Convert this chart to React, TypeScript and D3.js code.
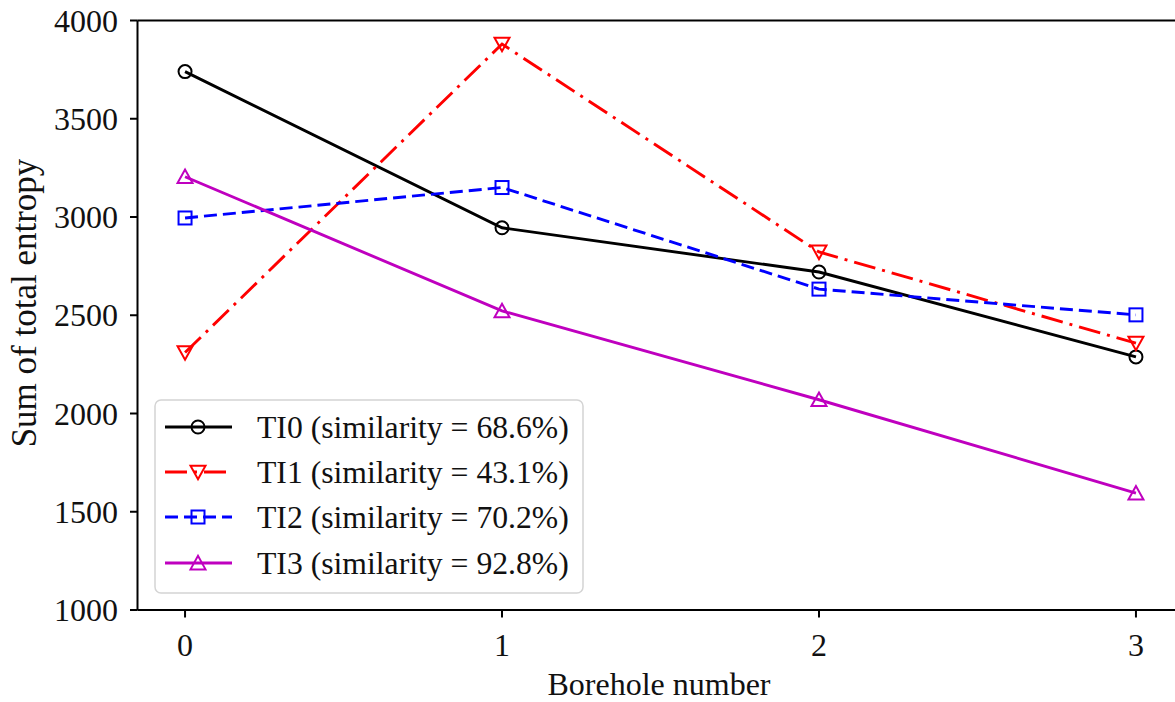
import React from "react";
import * as d3 from "d3";

const boreholes = [0, 1, 2, 3];
const ti0 = [3740, 2945, 2720, 2288];
const ti1 = [2310, 3880, 2822, 2358];
const ti2 = [2995, 3150, 2633, 2502];
const ti3 = [3205, 2522, 2070, 1595];
const seriesNames = [
  "TI0 (similarity = 68.6%)",
  "TI1 (similarity = 43.1%)",
  "TI2 (similarity = 70.2%)",
  "TI3 (similarity = 92.8%)",
];
const yTicks = [1000, 1500, 2000, 2500, 3000, 3500, 4000];
const xTicks = [0, 1, 2, 3];

const W = 1175;
const H = 702;
const FONT = "'Liberation Serif', 'Times New Roman', serif";

type Marker = "circle" | "tridown" | "square" | "triup";
const styles: { color: string; dash: string; marker: Marker }[] = [
  { color: "#000000", dash: "none", marker: "circle" },
  { color: "#ff0000", dash: "22 7 3 7", marker: "tridown" },
  { color: "#0000ff", dash: "13 6", marker: "square" },
  { color: "#bf00bf", dash: "none", marker: "triup" },
];

function MarkerShape({ type, x, y, color }: { type: Marker; x: number; y: number; color: string }) {
  const sw = 2;
  if (type === "circle") return <circle cx={x} cy={y} r={6.5} fill="none" stroke={color} strokeWidth={sw} />;
  if (type === "square")
    return <rect x={x - 6.5} y={y - 6.5} width={13} height={13} fill="none" stroke={color} strokeWidth={sw} />;
  const s = 7.5;
  if (type === "tridown")
    return (
      <path
        d={`M${x - s},${y - s * 0.85}L${x + s},${y - s * 0.85}L${x},${y + s * 0.95}Z`}
        fill="none"
        stroke={color}
        strokeWidth={sw}
      />
    );
  return (
    <path
      d={`M${x - s},${y + s * 0.85}L${x + s},${y + s * 0.85}L${x},${y - s * 0.95}Z`}
      fill="none"
      stroke={color}
      strokeWidth={sw}
    />
  );
}

export default function App() {
  const x = d3.scaleLinear().domain([-0.15, 3.15]).range([137.5, 1183.5]);
  const y = d3.scaleLinear().domain([1000, 4000]).range([610, 20.5]);
  const data = [ti0, ti1, ti2, ti3];
  const line = d3
    .line<number>()
    .x((_, i) => x(boreholes[i]))
    .y((d) => y(d));

  const legendRowsY = [427, 472, 517, 563];

  return (
    <svg
      width={W}
      height={H}
      style={{ position: "absolute", left: 0, top: 0, background: "#fff" }}
      fontFamily={FONT}
    >
      <rect x={0} y={0} width={W} height={H} fill="#fff" />
      <defs>
        <clipPath id="plotclip">
          <rect x={137.5} y={20.5} width={1183.5 - 137.5} height={610 - 20.5} />
        </clipPath>
      </defs>

      {/* series lines */}
      <g clipPath="url(#plotclip)">
        {data.map((d, si) => (
          <path
            key={si}
            d={line(d) || ""}
            fill="none"
            stroke={styles[si].color}
            strokeWidth={2.9}
            strokeDasharray={styles[si].dash}
          />
        ))}
        {data.map((d, si) =>
          d.map((v, i) => (
            <MarkerShape key={`${si}-${i}`} type={styles[si].marker} x={x(boreholes[i])} y={y(v)} color={styles[si].color} />
          ))
        )}
      </g>

      {/* spines */}
      <line x1={137.5} x2={1183.5} y1={20.5} y2={20.5} stroke="#000" strokeWidth={2} />
      <line x1={137.5} x2={1183.5} y1={610} y2={610} stroke="#000" strokeWidth={2} />
      <line x1={137.5} x2={137.5} y1={20.5} y2={610} stroke="#000" strokeWidth={2} />

      {/* y ticks */}
      {yTicks.map((t) => (
        <g key={t}>
          <line x1={130} x2={137.5} y1={y(t)} y2={y(t)} stroke="#000" strokeWidth={2} />
          <text x={118} y={y(t)} dy="0.35em" textAnchor="end" fontSize={32} fill="#111">
            {t}
          </text>
        </g>
      ))}
      {/* x ticks */}
      {xTicks.map((t) => (
        <g key={t}>
          <line x1={x(t)} x2={x(t)} y1={610} y2={617.5} stroke="#000" strokeWidth={2} />
          <text x={x(t)} y={645} dy="0.35em" textAnchor="middle" fontSize={32} fill="#111">
            {t}
          </text>
        </g>
      ))}

      {/* axis labels */}
      <text x={659} y={684} dy="0.35em" textAnchor="middle" fontSize={32} fill="#111">
        Borehole number
      </text>
      <text
        transform={`translate(24,303) rotate(-90)`}
        dy="0.35em"
        textAnchor="middle"
        fontSize={35}
        fill="#111"
      >
        Sum of total entropy
      </text>

      {/* legend */}
      <rect x={155} y={400} width={428} height={193} rx={6} fill="#fff" fillOpacity={0.8} stroke="#d4d4d4" strokeWidth={1.5} />
      {seriesNames.map((name, si) => (
        <g key={name}>
          <line
            x1={165}
            x2={232}
            y1={legendRowsY[si]}
            y2={legendRowsY[si]}
            stroke={styles[si].color}
            strokeWidth={2.9}
            strokeDasharray={styles[si].dash}
          />
          <MarkerShape type={styles[si].marker} x={198} y={legendRowsY[si]} color={styles[si].color} />
          <text x={257} y={legendRowsY[si]} dy="0.35em" fontSize={31.7} fill="#111">
            {name}
          </text>
        </g>
      ))}
    </svg>
  );
}
